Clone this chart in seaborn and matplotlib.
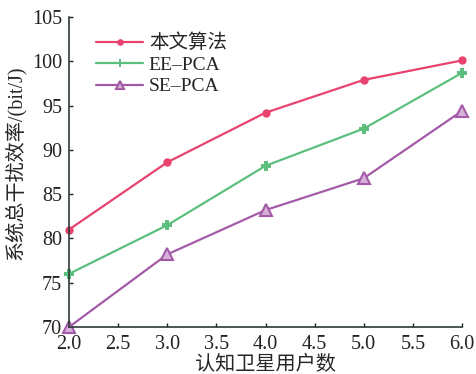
import matplotlib
matplotlib.use("Agg")
import matplotlib.pyplot as plt
import seaborn as sns
import pandas as pd

users = [2.0, 3.0, 4.0, 5.0, 6.0]
proposed = [81.0, 88.6, 94.2, 97.9, 100.1]
ee_pca = [76.0, 81.5, 88.2, 92.4, 98.7]
se_pca = [70.0, 78.2, 83.2, 86.8, 94.4]
series_names = ["本文算法", "EE\u2013PCA", "SE\u2013PCA"]
x_ticks = [2.0, 2.5, 3.0, 3.5, 4.0, 4.5, 5.0, 5.5, 6.0]
y_ticks = [70, 75, 80, 85, 90, 95, 100, 105]

sns.set_style("ticks")
plt.rcParams["font.family"] = ["Liberation Serif", "Noto Sans CJK SC"]
plt.rcParams["axes.unicode_minus"] = False

fig = plt.figure(figsize=(4.77, 3.74), dpi=100)
ax = fig.add_axes([0.1447, 0.1257, 0.824, 0.8288])

styles = [
    dict(color="#E8426E", marker="o", markersize=6, markeredgewidth=0),
    dict(color="#5CBF7D", marker="P", markersize=6.5, markeredgewidth=0),
    dict(color="#A35BA8", marker="^", markersize=8, markeredgewidth=1.5,
         markeredgecolor="#A35BA8", markerfacecolor="#D7B0DA"),
]
for name, vals, st in zip(series_names, [proposed, ee_pca, se_pca], styles):
    df = pd.DataFrame({"x": users, "y": vals})
    sns.lineplot(data=df, x="x", y="y", ax=ax, label=name, linewidth=1.6,
                 clip_on=False, **st)

ax.set_xlim(2.0, 6.0)
ax.set_ylim(70, 105)
ax.set_xticks(x_ticks)
ax.set_xticklabels([f"{t:.1f}" for t in x_ticks])
ax.set_yticks(y_ticks)
ax.tick_params(direction="in", length=3, width=1, labelsize=14.5, colors="#222222")
ax.tick_params(axis="x", pad=6)
ax.tick_params(axis="y", pad=5)
for s in ["left", "bottom"]:
    ax.spines[s].set_color("#2c3a36")
    ax.spines[s].set_linewidth(1.2)
sns.despine(ax=ax)

ax.set_xlabel("认知卫星用户数", fontsize=14.5, labelpad=1)
ax.set_ylabel("系统总干扰效率/(bit/J)", fontsize=14.5)
ax.yaxis.set_label_coords(-0.11, 0.53)

leg = ax.legend(loc="upper left", bbox_to_anchor=(0.035, 0.99), frameon=False,
                fontsize=14, handlelength=2.4, handletextpad=0.3,
                labelspacing=0.2, borderaxespad=0.3, markerscale=0.8)

fig.savefig("out.png", dpi=100)
